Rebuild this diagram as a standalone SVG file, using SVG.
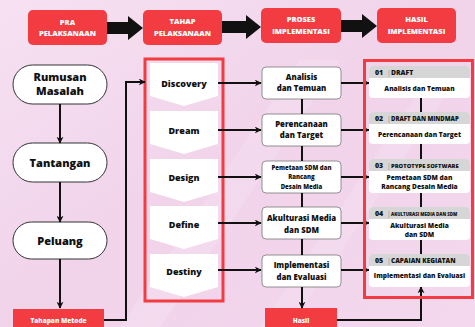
<svg xmlns="http://www.w3.org/2000/svg" width="475" height="327" viewBox="0 0 475 327">
<defs>
<linearGradient id="bg" x1="0" y1="0" x2="1" y2="1">
<stop offset="0" stop-color="#f6e1f2"/>
<stop offset="0.5" stop-color="#f1d3ea"/>
<stop offset="1" stop-color="#f3d8ee"/>
</linearGradient>
<marker id="ah" viewBox="0 0 10 10" refX="9" refY="5" markerWidth="7" markerHeight="7" markerUnits="userSpaceOnUse" orient="auto">
<path d="M0,0 L10,5 L0,10 L3,5 Z" fill="#111"/>
</marker>
<style>
.hdr{fill:#f23c41}
.ht{font-family:"Open Sans","DejaVu Sans",sans-serif;font-weight:800;font-size:7.5px;fill:#fff;text-anchor:middle}
.pill{fill:#fff;stroke:#333;stroke-width:1}
.pt{font-family:"Open Sans","DejaVu Sans",sans-serif;font-weight:800;font-size:11px;fill:#111;text-anchor:middle}
.chev{fill:#fff}
.ct{font-family:"Open Sans","DejaVu Sans",sans-serif;font-weight:800;font-size:9px;fill:#111;text-anchor:middle}
.box{fill:#fff;stroke:#777;stroke-width:0.8}
.bt{font-family:"Open Sans","DejaVu Sans",sans-serif;font-weight:800;font-size:7.8px;fill:#111;text-anchor:middle}
.bts{font-family:"Open Sans","DejaVu Sans",sans-serif;font-weight:800;font-size:6px;fill:#111;text-anchor:middle}
.card{fill:#fff}
.cardh{fill:#d6d6d6}
.kn{font-family:"Open Sans","DejaVu Sans",sans-serif;font-weight:800;font-size:7px;fill:#111}
.kbar{font-family:"Open Sans","DejaVu Sans",sans-serif;font-size:7px;fill:#888}
.kt{font-family:"Open Sans","DejaVu Sans",sans-serif;font-weight:800;font-size:6.8px;fill:#111}
.cb{font-family:"Open Sans","DejaVu Sans",sans-serif;font-weight:800;font-size:6.6px;fill:#111;text-anchor:middle}
.wt{font-family:"Open Sans","DejaVu Sans",sans-serif;font-weight:800;font-size:6.5px;fill:#fff;text-anchor:middle}
.ln{fill:none;stroke:#111;stroke-width:2}
.ar{fill:none;stroke:#111;stroke-width:2;marker-end:url(#ah)}
.frame{fill:none;stroke:#f23c41;stroke-width:3}
</style>
</defs>
<rect width="475" height="327" fill="url(#bg)"/>
<polygon points="120,327 300,60 340,60 160,327" fill="#ffffff" opacity="0.15"/>
<polygon points="260,327 420,90 450,90 290,327" fill="#ffffff" opacity="0.12"/>

<!-- header block arrows -->
<g id="header-arrows" fill="#111">
<polygon points="107,22 128,22 128,16 143,28 128,40 128,34 107,34"/>
<polygon points="222,21 246,21 246,15 261,27 246,39 246,33 222,33"/>
<polygon points="341,20 362,20 362,14 377,26 362,38 362,32 341,32"/>
</g>

<g id="h-pra"><rect class="hdr" x="28" y="10" width="79" height="35" rx="5"/><text class="ht" x="67.5" y="24.5">PRA</text><text class="ht" x="67.5" y="36">PELAKSANAAN</text></g>
<g id="h-tahap"><rect class="hdr" x="143" y="10" width="79" height="35" rx="5"/><text class="ht" x="182.5" y="24">TAHAP</text><text class="ht" x="182.5" y="36">PELAKSANAAN</text></g>
<g id="h-proses"><rect class="hdr" x="261" y="8" width="80" height="35" rx="5"/><text class="ht" x="301" y="22">PROSES</text><text class="ht" x="301" y="34">IMPLEMENTASI</text></g>
<g id="h-hasil"><rect class="hdr" x="377" y="8" width="79" height="35" rx="5"/><text class="ht" x="416.5" y="22">HASIL</text><text class="ht" x="416.5" y="34">IMPLEMENTASI</text></g>

<!-- left column -->
<g id="n-rumusan"><rect class="pill" x="13" y="65" width="94" height="39" rx="19.5"/><text class="pt" x="60" y="81">Rumusan</text><text class="pt" x="60" y="95">Masalah</text></g>
<g id="n-tantangan"><rect class="pill" x="13" y="143" width="94" height="39" rx="19.5"/><text class="pt" x="60" y="166.5">Tantangan</text></g>
<g id="n-peluang"><rect class="pill" x="13" y="222" width="94" height="37" rx="18.5"/><text class="pt" x="60" y="244.5">Peluang</text></g>
<g id="n-tahapan"><rect class="hdr" x="13" y="309" width="91" height="22"/><text class="wt" x="58.5" y="322.5">Tahapan Metode</text></g>

<!-- middle chevrons -->
<g id="n-tahap-frame"><rect class="frame" x="145" y="59" width="78" height="242"/></g>
<g id="n-discovery"><path class="chev" d="M150,63 H218 V96 L184,106 L150,96 Z"/><text class="ct" x="184" y="87">Discovery</text></g>
<g id="n-dream"><path class="chev" d="M150,111 H218 V144 L184,154 L150,144 Z"/><text class="ct" x="184" y="134">Dream</text></g>
<g id="n-design"><path class="chev" d="M150,159 H218 V192 L184,202 L150,192 Z"/><text class="ct" x="184" y="181">Design</text></g>
<g id="n-define"><path class="chev" d="M150,206 H218 V239 L184,249 L150,239 Z"/><text class="ct" x="184" y="228">Define</text></g>
<g id="n-destiny"><path class="chev" d="M150,254 H218 V287 L184,297 L150,287 Z"/><text class="ct" x="184" y="275">Destiny</text></g>

<!-- process column -->
<g id="n-analisis"><rect class="box" x="262" y="67" width="79" height="32" rx="4"/><text class="bt" x="301.5" y="80">Analisis</text><text class="bt" x="301.5" y="91">dan Temuan</text></g>
<g id="n-perencanaan"><rect class="box" x="262" y="114" width="79" height="32" rx="4"/><text class="bt" x="301.5" y="127">Perencanaan</text><text class="bt" x="301.5" y="138">dan Target</text></g>
<g id="n-pemetaan"><rect class="box" x="262" y="161" width="79" height="32" rx="4"/><text class="bts" x="301.5" y="170">Pemetaan SDM dan</text><text class="bts" x="301.5" y="179">Rancang</text><text class="bts" x="301.5" y="188.5">Desain Media</text></g>
<g id="n-akulturasi"><rect class="box" x="262" y="207" width="79" height="32" rx="4"/><text class="bt" x="301.5" y="221">Akulturasi Media</text><text class="bt" x="301.5" y="233">dan SDM</text></g>
<g id="n-implementasi"><rect class="box" x="262" y="255" width="79" height="32" rx="4"/><text class="bt" x="301.5" y="268">Implementasi</text><text class="bt" x="301.5" y="280">dan Evaluasi</text></g>
<g id="n-hasil"><rect class="hdr" x="265" y="308" width="72" height="22"/><text class="wt" x="301" y="322.5">Hasil</text></g>

<!-- connectors -->
<g id="connectors">
<path class="ar" d="M60,104 V143"/>
<path class="ar" d="M60,182 V222"/>
<path class="ar" d="M60,259 V308"/>
<path class="ar" d="M104,320 H126 V82 H145"/>
<path class="ar" d="M218,83 H261"/>
<path class="ar" d="M218,130 H261"/>
<path class="ar" d="M218,177 H261"/>
<path class="ar" d="M218,223 H261"/>
<path class="ar" d="M218,270 H261"/>
<path class="ln" d="M302,99 V114 M302,146 V161 M302,193 V207"/>
<path class="ln" d="M302,239 V255"/>
<path class="ar" d="M302,287 V308"/>
<path class="ar" d="M341,83 H369"/>
<path class="ar" d="M341,130 H369"/>
<path class="ar" d="M341,177 H369"/>
<path class="ar" d="M341,223 H369"/>
<path class="ar" d="M341,270 H369"/>
<path class="ln" d="M421,98 V112 M421,144 V159 M421,193 V207 M421,240 V254"/>
<path class="ar" d="M337,320 H421 V287"/>
</g>

<!-- results panel -->
<g id="n-result-frame"><rect class="frame" x="364.5" y="60.5" width="108" height="237"/></g>
<g id="n-r1"><rect class="card" x="369" y="66" width="101" height="32" rx="4"/><path class="cardh" d="M373,66 H466 A4,4 0 0 1 470,70 V78 H369 V70 A4,4 0 0 1 373,66 Z"/><text class="kn" x="375" y="75">01</text><text class="kbar" x="387" y="75">|</text><text class="kt" x="391" y="75">DRAFT</text><text class="cb" x="419.5" y="91">Analisis dan Temuan</text></g>
<g id="n-r2"><rect class="card" x="369" y="112" width="101" height="32" rx="4"/><path class="cardh" d="M373,112 H466 A4,4 0 0 1 470,116 V124 H369 V116 A4,4 0 0 1 373,112 Z"/><text class="kn" x="375" y="121">02</text><text class="kbar" x="387" y="121">|</text><text class="kt" x="391" y="121" style="font-size:6px">DRAFT DAN MINDMAP</text><text class="cb" x="419.5" y="137">Perencanaan dan Target</text></g>
<g id="n-r3"><rect class="card" x="369" y="159" width="101" height="34" rx="4"/><path class="cardh" d="M373,159 H466 A4,4 0 0 1 470,163 V171 H369 V163 A4,4 0 0 1 373,159 Z"/><text class="kn" x="375" y="168">03</text><text class="kbar" x="387" y="168">|</text><text class="kt" x="391" y="168" style="font-size:5.8px">PROTOTYPE SOFTWARE</text><text class="cb" x="419.5" y="180">Pemetaan SDM dan</text><text class="cb" x="419.5" y="189">Rancang Desain Media</text></g>
<g id="n-r4"><rect class="card" x="369" y="207" width="101" height="33" rx="4"/><path class="cardh" d="M373,207 H466 A4,4 0 0 1 470,211 V219 H369 V211 A4,4 0 0 1 373,207 Z"/><text class="kn" x="375" y="216">04</text><text class="kbar" x="387" y="216">|</text><text class="kt" x="391" y="215.5" style="font-size:4.4px">AKULTURASI MEDIA DAN SDM</text><text class="cb" x="419.5" y="228">Akulturasi Media</text><text class="cb" x="419.5" y="237">dan SDM</text></g>
<g id="n-r5"><rect class="card" x="369" y="254" width="101" height="33" rx="4"/><path class="cardh" d="M373,254 H466 A4,4 0 0 1 470,258 V266 H369 V258 A4,4 0 0 1 373,254 Z"/><text class="kn" x="375" y="263">05</text><text class="kbar" x="387" y="263">|</text><text class="kt" x="391" y="263" style="font-size:6.4px">CAPAIAN KEGIATAN</text><text class="cb" x="419.5" y="278">Implementasi dan Evaluasi</text></g>
</svg>
